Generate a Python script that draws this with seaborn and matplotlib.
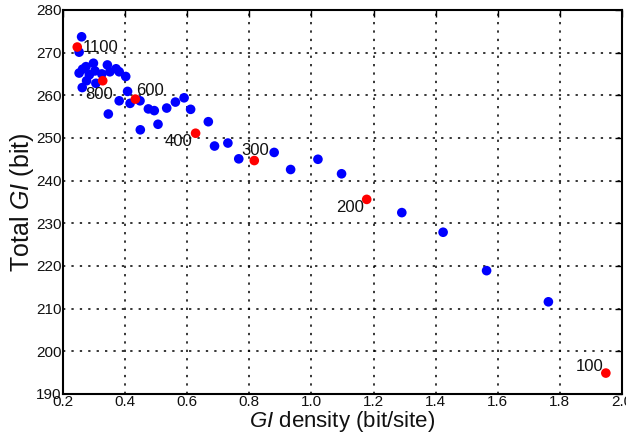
import matplotlib
matplotlib.use("Agg")
import numpy as np
import pandas as pd
import matplotlib.pyplot as plt
import seaborn as sns

# Blue points: GI density (bit/site) and total GI (bit)
blue_x = [0.260, 0.252, 0.298, 0.343, 0.274, 0.263, 0.371, 0.381, 0.252, 0.303,
          0.325, 0.351, 0.285, 0.402, 0.276, 0.306, 0.262, 0.408, 0.381, 0.416,
          0.448, 0.346, 0.475, 0.494, 0.534, 0.562, 0.590, 0.611, 0.449, 0.506,
          0.668, 0.688, 0.731, 0.766, 0.880, 0.933, 1.021, 1.097, 1.291, 1.424,
          1.564, 1.763]
blue_y = [273.7, 270.1, 267.5, 267.1, 266.7, 266.1, 266.2, 265.5, 265.2, 265.7,
          265.0, 265.5, 264.8, 264.4, 263.4, 262.8, 261.8, 260.9, 258.7, 258.1,
          258.7, 255.6, 256.8, 256.4, 257.0, 258.4, 259.4, 256.7, 251.9, 253.2,
          253.8, 248.1, 248.8, 245.1, 246.6, 242.6, 245.0, 241.6, 232.5, 227.9,
          218.9, 211.6]

# Red points with their labels
red_x = [0.246, 0.328, 0.433, 0.627, 0.816, 1.178, 1.948]
red_y = [271.3, 263.4, 259.1, 251.1, 244.7, 235.6, 194.9]
red_labels = ["1100", "800", "600", "400", "300", "200", "100"]

# label placement (offset in pixels, alignment)
label_offsets = [(5, 0, "left"), (10, -14, "right"), (1, 9, "left"), (-3, -8, "right"),
                 (1, 10, "center"), (-3, -8, "right"), (-2, 7, "right")]

sns.set_style("white")
plt.rcParams["font.family"] = ["Liberation Sans", "DejaVu Sans"]
plt.rcParams["mathtext.fontset"] = "custom"
plt.rcParams["mathtext.it"] = "Liberation Sans:italic"
plt.rcParams["mathtext.rm"] = "Liberation Sans"

df = pd.concat([
    pd.DataFrame({"x": blue_x, "y": blue_y, "kind": "blue"}),
    pd.DataFrame({"x": red_x, "y": red_y, "kind": "red"}),
], ignore_index=True)

fig = plt.figure(figsize=(6.26, 4.34), dpi=100)
ax = fig.add_axes([0.1006, 0.0922, 0.893, 0.885])

sns.scatterplot(data=df, x="x", y="y", hue="kind",
                palette={"blue": "#0000ff", "red": "#ff0000"},
                s=48, linewidth=0, legend=False, ax=ax, zorder=3)

for xv, yv, lab, (dx, dy, ha) in zip(red_x, red_y, red_labels, label_offsets):
    ax.annotate(lab, (xv, yv), xytext=(dx, dy), textcoords="offset pixels",
                ha=ha, va="center", fontsize=12, color="#111111", zorder=4)

ax.set_xlim(0.2, 2.0)
ax.set_ylim(190, 280)
ax.set_xticks(np.arange(0.2, 2.01, 0.2))
ax.set_xticklabels([f"{v:.1f}" for v in np.arange(0.2, 2.01, 0.2)])
ax.set_yticks(np.arange(190, 281, 10))

ax.grid(True, color="black", linestyle=(0, (1.5, 4)), linewidth=1.1)
ax.tick_params(direction="in", length=5, width=1, top=True, right=True,
               labelsize=11, colors="black", labelcolor="#111111")
ax.tick_params(axis="x", pad=1)
ax.tick_params(axis="y", pad=1)
for sp in ax.spines.values():
    sp.set_color("black")
    sp.set_linewidth(1.5)

ax.set_xlabel(r"$\mathit{GI}$ density (bit/site)", fontsize=16, labelpad=0, color="#111111")
ax.set_ylabel(r"Total $\mathit{GI}$ (bit)", fontsize=18, labelpad=0, color="#111111")

fig.savefig("out.png", dpi=100)
